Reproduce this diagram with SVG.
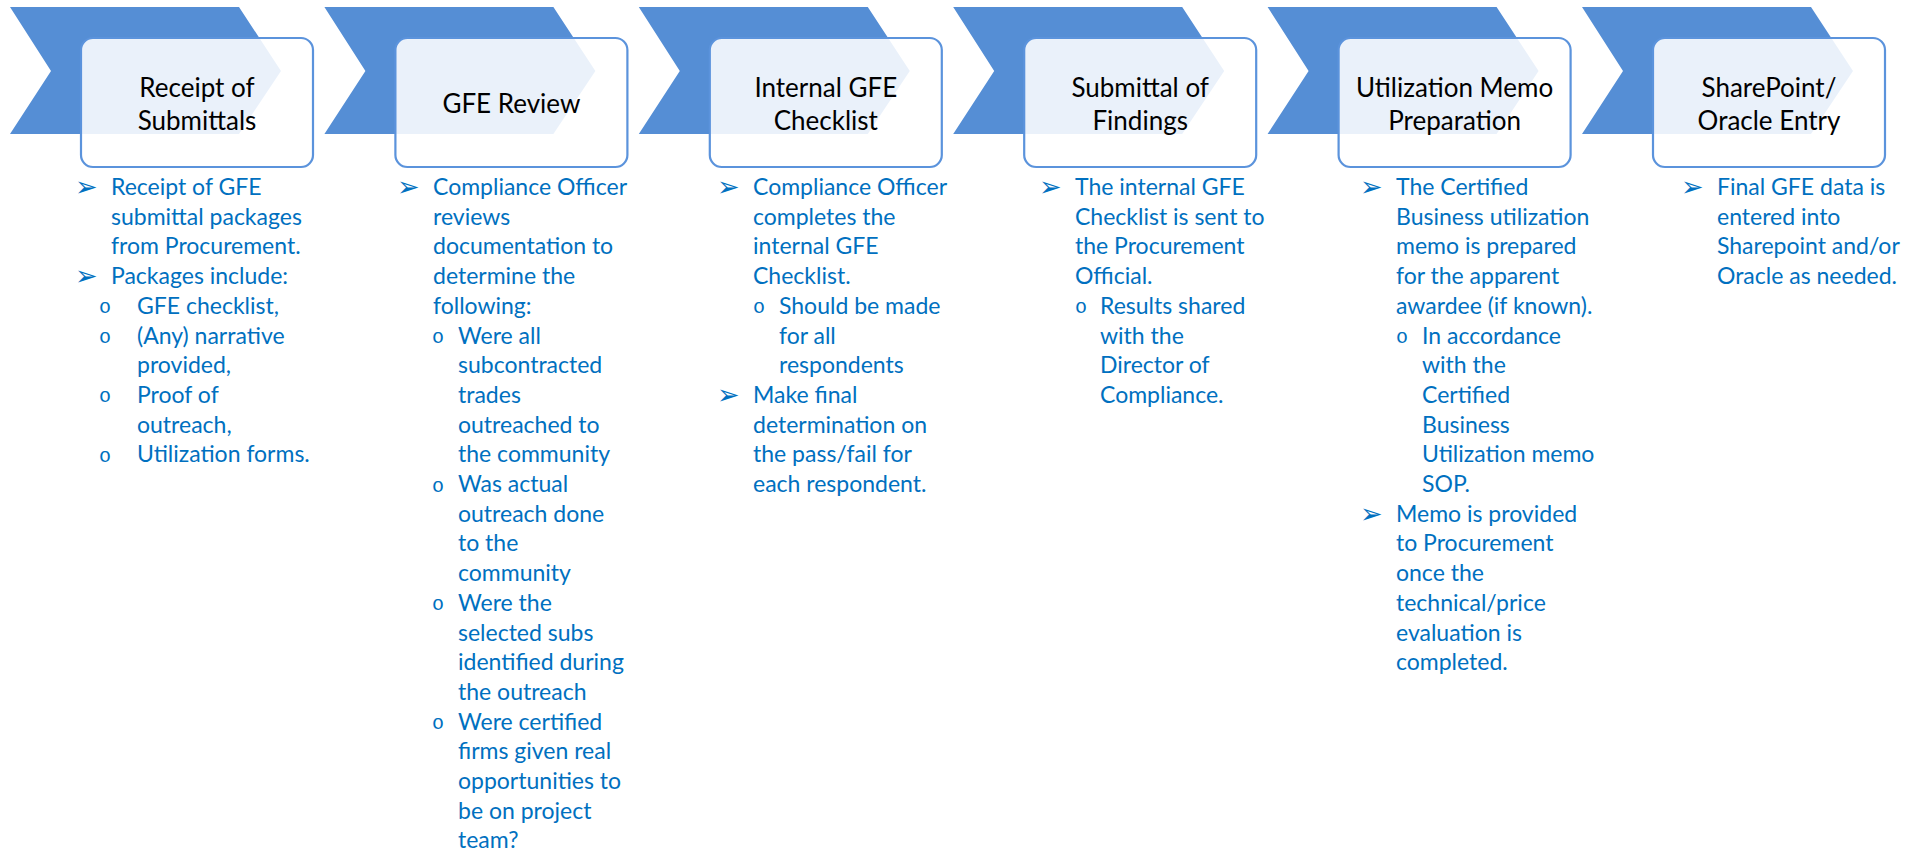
<svg xmlns="http://www.w3.org/2000/svg" xmlns:xlink="http://www.w3.org/1999/xlink" width="1916" height="851" viewBox="0 0 1916 851">
<style>
.chev{fill:#558ed5}
.box{fill:#ffffff;fill-opacity:0.88;stroke:#5b93dc;stroke-width:2.2}
.title{font-family:Lato,"Open Sans",sans-serif;font-size:26px;fill:#000;text-anchor:middle}
.body{font-family:Lato,"Open Sans",sans-serif;font-size:23px;fill:#0070c0}
.arr{font-family:"DejaVu Sans",sans-serif;font-size:27px;fill:#0070c0}
.sub{font-family:"Liberation Mono",monospace;font-size:20px;fill:#0070c0}
</style>
<defs>
<polygon id="chev" points="10,7 239,7 281,71 239,134 10,134 51,71"/>
<rect id="box" x="81" y="38" width="232" height="129" rx="12" ry="12"/>
</defs>
<g id="connectors"/>

<g id="step1">
<use xlink:href="#chev" class="chev" x="0"/>
<use xlink:href="#box" class="box" x="0"/>
<text class="title" x="197" y="97">Receipt of</text>
<text class="title" x="197" y="130">Submittals</text>
<text class="arr" x="75" y="196">➢</text>
<text class="body" x="111" y="195">Receipt of GFE</text>
<text class="body" x="111" y="224.7">submittal packages</text>
<text class="body" x="111" y="254.4">from Procurement.</text>
<text class="arr" x="75" y="285">➢</text>
<text class="body" x="111" y="284.1">Packages include:</text>
<text class="sub" x="99" y="313">o</text>
<text class="body" x="137" y="313.8">GFE checklist,</text>
<text class="sub" x="99" y="343">o</text>
<text class="body" x="137" y="343.5">(Any) narrative</text>
<text class="body" x="137" y="373.2">provided,</text>
<text class="sub" x="99" y="402">o</text>
<text class="body" x="137" y="402.9">Proof of</text>
<text class="body" x="137" y="432.6">outreach,</text>
<text class="sub" x="99" y="461.5">o</text>
<text class="body" x="137" y="462.3">Utilization forms.</text>
</g>

<g id="step2">
<use xlink:href="#chev" class="chev" x="314.4"/>
<use xlink:href="#box" class="box" x="314.4"/>
<text class="title" x="511.4" y="113">GFE Review</text>
<text class="arr" x="397" y="196">➢</text>
<text class="body" x="433" y="195">Compliance Officer</text>
<text class="body" x="433" y="224.7">reviews</text>
<text class="body" x="433" y="254.4">documentation to</text>
<text class="body" x="433" y="284.1">determine the</text>
<text class="body" x="433" y="313.8">following:</text>
<text class="sub" x="432" y="343">o</text>
<text class="body" x="458" y="343.5">Were all</text>
<text class="body" x="458" y="373.2">subcontracted</text>
<text class="body" x="458" y="402.9">trades</text>
<text class="body" x="458" y="432.6">outreached to</text>
<text class="body" x="458" y="462.3">the community</text>
<text class="sub" x="432" y="491.5">o</text>
<text class="body" x="458" y="492">Was actual</text>
<text class="body" x="458" y="521.7">outreach done</text>
<text class="body" x="458" y="551.4">to the</text>
<text class="body" x="458" y="581.1">community</text>
<text class="sub" x="432" y="610">o</text>
<text class="body" x="458" y="610.8">Were the</text>
<text class="body" x="458" y="640.5">selected subs</text>
<text class="body" x="458" y="670.2">identified during</text>
<text class="body" x="458" y="699.9">the outreach</text>
<text class="sub" x="432" y="729">o</text>
<text class="body" x="458" y="729.6">Were certified</text>
<text class="body" x="458" y="759.3">firms given real</text>
<text class="body" x="458" y="789">opportunities to</text>
<text class="body" x="458" y="818.7">be on project</text>
<text class="body" x="458" y="848.4">team?</text>
</g>

<g id="step3">
<use xlink:href="#chev" class="chev" x="628.8"/>
<use xlink:href="#box" class="box" x="628.8"/>
<text class="title" x="825.8" y="97">Internal GFE</text>
<text class="title" x="825.8" y="130">Checklist</text>
<text class="arr" x="717" y="196">➢</text>
<text class="body" x="753" y="195">Compliance Officer</text>
<text class="body" x="753" y="224.7">completes the</text>
<text class="body" x="753" y="254.4">internal GFE</text>
<text class="body" x="753" y="284.1">Checklist.</text>
<text class="sub" x="753" y="313">o</text>
<text class="body" x="779" y="313.8">Should be made</text>
<text class="body" x="779" y="343.5">for all</text>
<text class="body" x="779" y="373.2">respondents</text>
<text class="arr" x="717" y="404">➢</text>
<text class="body" x="753" y="402.9">Make final</text>
<text class="body" x="753" y="432.6">determination on</text>
<text class="body" x="753" y="462.3">the pass/fail for</text>
<text class="body" x="753" y="492">each respondent.</text>
</g>

<g id="step4">
<use xlink:href="#chev" class="chev" x="943.2"/>
<use xlink:href="#box" class="box" x="943.2"/>
<text class="title" x="1140.2" y="97">Submittal of</text>
<text class="title" x="1140.2" y="130">Findings</text>
<text class="arr" x="1039" y="196">➢</text>
<text class="body" x="1075" y="195">The internal GFE</text>
<text class="body" x="1075" y="224.7">Checklist is sent to</text>
<text class="body" x="1075" y="254.4">the Procurement</text>
<text class="body" x="1075" y="284.1">Official.</text>
<text class="sub" x="1075" y="313">o</text>
<text class="body" x="1100" y="313.8">Results shared</text>
<text class="body" x="1100" y="343.5">with the</text>
<text class="body" x="1100" y="373.2">Director of</text>
<text class="body" x="1100" y="402.9">Compliance.</text>
</g>

<g id="step5">
<use xlink:href="#chev" class="chev" x="1257.6"/>
<use xlink:href="#box" class="box" x="1257.6"/>
<text class="title" x="1454.6" y="97">Utilization Memo</text>
<text class="title" x="1454.6" y="130">Preparation</text>
<text class="arr" x="1360" y="196">➢</text>
<text class="body" x="1396" y="195">The Certified</text>
<text class="body" x="1396" y="224.7">Business utilization</text>
<text class="body" x="1396" y="254.4">memo is prepared</text>
<text class="body" x="1396" y="284.1">for the apparent</text>
<text class="body" x="1396" y="313.8">awardee (if known).</text>
<text class="sub" x="1396" y="343">o</text>
<text class="body" x="1422" y="343.5">In accordance</text>
<text class="body" x="1422" y="373.2">with the</text>
<text class="body" x="1422" y="402.9">Certified</text>
<text class="body" x="1422" y="432.6">Business</text>
<text class="body" x="1422" y="462.3">Utilization memo</text>
<text class="body" x="1422" y="492">SOP.</text>
<text class="arr" x="1360" y="522.7">➢</text>
<text class="body" x="1396" y="521.7">Memo is provided</text>
<text class="body" x="1396" y="551.4">to Procurement</text>
<text class="body" x="1396" y="581.1">once the</text>
<text class="body" x="1396" y="610.8">technical/price</text>
<text class="body" x="1396" y="640.5">evaluation is</text>
<text class="body" x="1396" y="670.2">completed.</text>
</g>

<g id="step6">
<use xlink:href="#chev" class="chev" x="1572"/>
<use xlink:href="#box" class="box" x="1572"/>
<text class="title" x="1769" y="97">SharePoint/</text>
<text class="title" x="1769" y="130">Oracle Entry</text>
<text class="arr" x="1681" y="196">➢</text>
<text class="body" x="1717" y="195">Final GFE data is</text>
<text class="body" x="1717" y="224.7">entered into</text>
<text class="body" x="1717" y="254.4">Sharepoint and/or</text>
<text class="body" x="1717" y="284.1">Oracle as needed.</text>
</g>
</svg>
